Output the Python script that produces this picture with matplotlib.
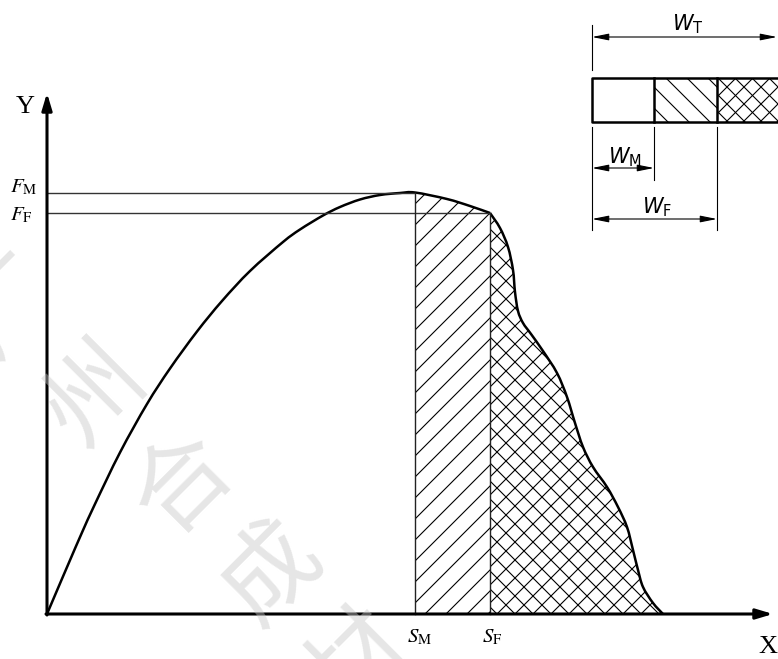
import numpy as np
import matplotlib.pyplot as plt
from matplotlib.patches import Polygon, PathPatch
from matplotlib.path import Path

plt.rcParams['mathtext.fontset'] = 'stix'

# force / displacement curve
rise_x = [0, 10, 22, 35, 48, 73, 100, 123, 150, 175, 203, 236, 253, 276, 293, 313, 333, 353, 368]
rise_y = [0, 23.5, 51.5, 81.5, 110, 161.5, 210, 245.5, 282.5, 313, 343, 372, 384.5, 398.5, 407, 414.5, 419, 421, 421.5]
fall_x = [368, 400, 423, 443, 453, 461, 466, 468, 471, 476, 484, 496, 510, 520, 528, 536, 546, 560, 571, 580, 586, 591, 596, 606, 616]
fall_y = [421.5, 415, 408, 401, 386, 367, 344, 322, 303, 291, 280, 263, 241, 217, 191, 167, 147, 127, 107, 87, 64, 44, 27, 11, 0]

s_m, s_f = 368, 443
f_m, f_f = 421.5, 401

# width bar (upper right)
w_m, w_f, w_t = 62, 125, 200

watermark = ['广', '州', '合', '成', '材']


def smooth(xs, ys):
    # catmull-rom through the read points, drawn as cubic beziers
    p = np.column_stack([xs, ys]).astype(float)
    n = len(p)
    verts = [p[0]]
    codes = [Path.MOVETO]
    for i in range(n - 1):
        p0 = p[i - 1] if i > 0 else p[i]
        p3 = p[i + 2] if i + 2 < n else p[i + 1]
        verts += [p[i] + (p[i + 1] - p0) / 6, p[i + 1] - (p3 - p[i]) / 6, p[i + 1]]
        codes += [Path.CURVE4] * 3
    return verts, codes


def hatch(ax, patch, spacing, slopes, lw=0.8):
    ax.add_patch(patch)
    ext = patch.get_path().get_extents()
    x0, x1, y0, y1 = ext.x0, ext.x1, ext.y0, ext.y1
    for k in slopes:
        if k > 0:
            cmin, cmax = y0 - x1, y1 - x0
        else:
            cmin, cmax = y0 + x0, y1 + x1
        c = np.floor(cmin / spacing) * spacing
        while c <= cmax:
            ln, = ax.plot([x0, x1], [k * x0 + c, k * x1 + c], color='k', lw=lw)
            ln.set_clip_path(patch)
            c += spacing


def box(verts):
    return Polygon(verts, closed=True, fc='none', ec='none')


def dim(ax, xa, xb, y):
    ax.annotate('', xy=(xb, y), xytext=(xa, y),
                arrowprops=dict(arrowstyle='<|-|>,head_length=1.0,head_width=0.2',
                                mutation_scale=10, lw=0.8, color='k',
                                shrinkA=0, shrinkB=0))


fig = plt.figure(figsize=(7.78, 6.59), dpi=100)
ax = fig.add_axes([0, 0, 1, 1])
ax.set_xlim(-47, 731)
ax.set_ylim(-45, 614)
ax.set_axis_off()

i_f = fall_x.index(s_f)
va, ca = smooth(rise_x + fall_x[1:i_f + 1], rise_y + fall_y[1:i_f + 1])
vb, cb = smooth(fall_x[i_f:], fall_y[i_f:])

# hatched areas under the curve
part1 = box([(s_m, 0)] + list(zip(fall_x[:i_f + 1], fall_y[:i_f + 1])) + [(s_f, 0)])
part2 = PathPatch(Path([(s_f, 0)] + vb + [(s_f, 0)],
                       [Path.MOVETO, Path.LINETO] + cb[1:] + [Path.CLOSEPOLY]),
                  fc='none', ec='none')
hatch(ax, part1, 21, [1])
hatch(ax, part2, 18, [1, -1])

# curve
ax.add_patch(PathPatch(Path(va, ca), fc='none', ec='k', lw=1.8))
ax.add_patch(PathPatch(Path(vb, cb), fc='none', ec='k', lw=1.8))

# reference lines
ax.plot([0, s_m], [f_m, f_m], color='#333333', lw=1.0)
ax.plot([0, s_f], [f_f, f_f], color='#333333', lw=1.0)
ax.plot([s_m, s_m], [0, f_m], color='#222222', lw=1.0)
ax.plot([s_f, s_f], [0, f_f], color='#222222', lw=1.0)

# axes with arrows
ax.annotate('', xy=(0, 521), xytext=(0, -1),
            arrowprops=dict(arrowstyle='-|>,head_length=1.0,head_width=0.3',
                            mutation_scale=10, lw=2.2, color='k', shrinkA=0, shrinkB=0))
ax.annotate('', xy=(726, 0), xytext=(-1, 0),
            arrowprops=dict(arrowstyle='-|>,head_length=1.0,head_width=0.3',
                            mutation_scale=10, lw=2.2, color='k', shrinkA=0, shrinkB=0))

ax.text(-22, 507, 'Y', family='Liberation Serif', fontsize=19, ha='center', va='center')
ax.text(721, -33, 'X', family='Liberation Serif', fontsize=19, ha='center', va='center')
ax.text(-37, 422, r'$F_{\mathrm{M}}$', fontsize=15, ha='left', va='baseline')
ax.text(-37, 394, r'$F_{\mathrm{F}}$', fontsize=15, ha='left', va='baseline')
ax.text(360, -28, r'$S_{\mathrm{M}}$', fontsize=15, ha='left', va='baseline')
ax.text(435, -28, r'$S_{\mathrm{F}}$', fontsize=15, ha='left', va='baseline')

# width bar
bx, by0, by1 = 545, 492, 536
hatch(ax, box([(bx + w_m, by0), (bx + w_f, by0), (bx + w_f, by1), (bx + w_m, by1)]), 21, [-1])
hatch(ax, box([(bx + w_f, by0), (bx + w_t, by0), (bx + w_t, by1), (bx + w_f, by1)]), 17, [1, -1])
ax.plot([bx + w_t, bx, bx, bx + w_t], [by1, by1, by0, by0], color='k', lw=1.8)
for w in [w_m, w_f]:
    ax.plot([bx + w, bx + w], [by0, by1], color='k', lw=1.8)

ax.plot([bx, bx], [544, 589], color='k', lw=0.8)
ax.plot([bx, bx], [384, 487], color='k', lw=0.8)
ax.plot([bx + w_m, bx + w_m], [434, 487], color='k', lw=0.8)
ax.plot([bx + w_f, bx + w_f], [384, 487], color='k', lw=0.8)
dim(ax, bx, 730, 577)
dim(ax, bx, bx + w_m, 446)
dim(ax, bx, bx + w_f, 395)
ax.text(625, 584, r'$W_{\mathrm{T}}$', fontsize=15, math_fontfamily='dejavusans', ha='left', va='baseline')
ax.text(561, 451, r'$W_{\mathrm{M}}$', fontsize=15, math_fontfamily='dejavusans', ha='left', va='baseline')
ax.text(595, 401, r'$W_{\mathrm{F}}$', fontsize=15, math_fontfamily='dejavusans', ha='left', va='baseline')

# faint diagonal watermark
for i, ch in enumerate(watermark):
    ax.text(-40 + 88 * i, 308 - 89 * i, ch, family=['Noto Sans CJK SC'], fontsize=70,
            color='#c8c8c8', alpha=0.45, rotation=45,
            rotation_mode='anchor', ha='center', va='center', zorder=10)

fig.savefig('out.png', dpi=100)
